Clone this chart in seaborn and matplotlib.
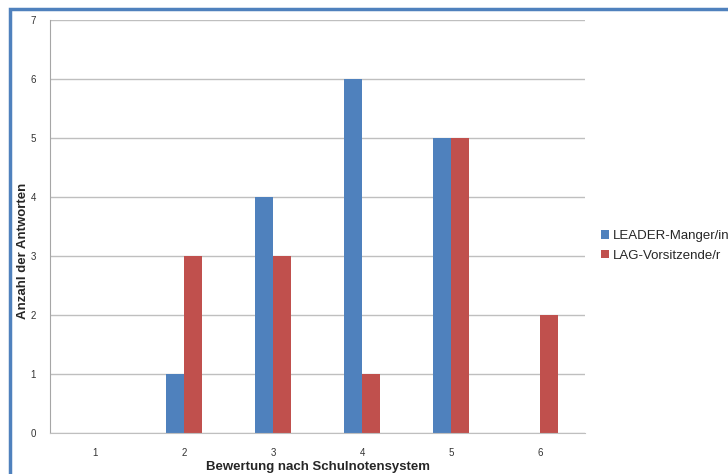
import matplotlib
matplotlib.use("Agg")
import matplotlib.pyplot as plt
import pandas as pd
import seaborn as sns
from matplotlib.patches import Rectangle

noten = ["1", "2", "3", "4", "5", "6"]
leader_manager = [0, 1, 4, 6, 5, 0]
lag_vorsitz = [0, 3, 3, 1, 5, 2]
serien = ["LEADER-Manger/in", "LAG-Vorsitzende/r"]
farben = ["#4F81BD", "#C0504D"]

df = pd.DataFrame({
    "Note": noten * 2,
    "Anzahl": leader_manager + lag_vorsitz,
    "Gruppe": [serien[0]] * len(noten) + [serien[1]] * len(noten),
})

sns.set_style("white")
plt.rcParams["font.family"] = ["Liberation Sans", "DejaVu Sans"]

fig = plt.figure(figsize=(7.28, 4.74), dpi=100)
ax = fig.add_axes([50 / 728, 41 / 474, 535 / 728, 413 / 474])

sns.barplot(data=df, x="Note", y="Anzahl", hue="Gruppe", order=noten,
            hue_order=serien, palette=farben, width=0.4, gap=0,
            saturation=1, linewidth=0, ax=ax, legend=True)

ax.set_ylim(0, 7)
ax.set_xlim(-0.5, 5.5)
ax.set_yticks(range(8))
ax.yaxis.grid(True, color="#BFBFBF", linewidth=1)
ax.set_axisbelow(True)
for s in ["top", "right"]:
    ax.spines[s].set_visible(False)
ax.spines["left"].set_color("#A6A6A6")
ax.spines["bottom"].set_color("#BFBFBF")
ax.tick_params(axis="y", length=4, color="#A6A6A6", labelsize=7, pad=6)
ax.tick_params(axis="x", length=0, labelsize=7, pad=11)
for lab in ax.get_xticklabels() + ax.get_yticklabels():
    lab.set_color("#333333")

ax.set_xlabel("Bewertung nach Schulnotensystem", fontsize=9.5, fontweight="bold")
ax.set_ylabel("Anzahl der Antworten", fontsize=9.5, fontweight="bold")
ax.xaxis.set_label_coords(0.5, -0.067)
ax.yaxis.set_label_coords(-0.04, 0.44)

ax.legend(loc="center left", bbox_to_anchor=(596 / 728, 1 - 246 / 474),
          bbox_transform=fig.transFigure, frameon=False, fontsize=9.5,
          handlelength=0.6, handleheight=0.6, handletextpad=0.3,
          labelspacing=0.6, borderaxespad=0)

# Rahmen um das Diagramm
fig.patches.append(Rectangle((10 / 728, -0.1), 1.1, (474 - 9) / 474 + 0.1,
                             transform=fig.transFigure, fill=False,
                             edgecolor="#4F81BD", linewidth=2.5))

fig.savefig("out.png", dpi=100)
